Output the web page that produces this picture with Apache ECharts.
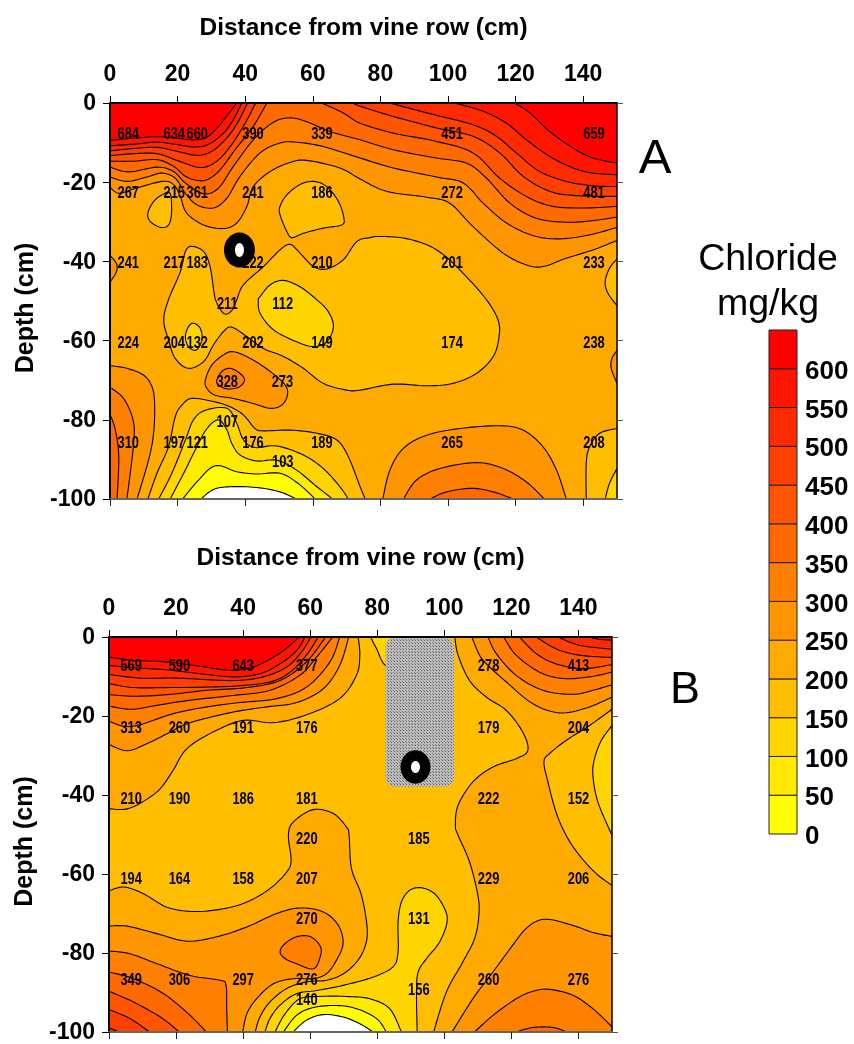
<!DOCTYPE html>
<html><head><meta charset="utf-8"><style>html,body{margin:0;padding:0;background:#fff}#c{width:854px;height:1044px}</style>
<script src="https://cdn.jsdelivr.net/npm/echarts@6/dist/echarts.min.js"></script></head>
<body><div id="c"></div>
<script>
// Legend bands
const bandLow=[0,50,100,150,200,250,300,350,400,450,500,550,600];
const bandHigh=[50,100,150,200,250,300,350,400,450,500,550,600,650];
const bandColors=['#FFFF00','#FFEA00','#FFD500','#FFBF00','#FFAA00','#FF9500','#FF8000','#FF6A00','#FF5500','#FF4000','#FF2B00','#FF1500','#FF0000'];
const xTicks=[0,20,40,60,80,100,120,140];

// Panel A sample labels [distance, depth, chloride]
const samplesA=[[5.4,-7.7,684],[19,-7.7,634],[25.8,-7.7,660],[42.3,-7.7,390],[62.7,-7.7,339],[101.2,-7.7,451],[143.2,-7.7,659],
[5.4,-22.6,267],[19,-22.6,215],[25.8,-22.6,361],[42.3,-22.6,241],[62.7,-22.6,186],[101.2,-22.6,272],[143.2,-22.6,481],
[5.4,-40.3,241],[19,-40.3,217],[25.8,-40.3,183],[42.3,-40.3,222],[62.7,-40.3,210],[101.2,-40.3,201],[143.2,-40.3,233],
[34.7,-50.6,211],[51.1,-50.6,112],
[5.4,-60.5,224],[19,-60.5,204],[25.8,-60.5,132],[42.3,-60.5,202],[62.7,-60.5,149],[101.2,-60.5,174],[143.2,-60.5,238],
[34.7,-70.4,328],[51,-70.4,273],[34.7,-80.5,107],
[5.4,-85.6,310],[19,-85.6,197],[25.8,-85.6,121],[42.3,-85.6,176],[62.7,-85.6,189],[101.2,-85.6,265],[143.2,-85.6,208],
[51.1,-90.6,103]];
// Panel B sample labels
const samplesB=[[6.6,-7.3,569],[21,-7.3,590],[40,-7.3,643],[59,-7.3,377],[113.2,-7.3,278],[140,-7.3,413],
[6.6,-22.8,313],[21,-22.8,260],[40,-22.8,191],[59,-22.8,176],[113.2,-22.8,179],[140,-22.8,204],
[6.6,-40.8,210],[21,-40.8,190],[40,-40.8,186],[59,-40.8,181],[113.2,-40.8,222],[140,-40.8,152],
[59,-51,220],[92.4,-51,185],
[6.6,-61.1,194],[21,-61.1,164],[40,-61.1,158],[59,-61.1,207],[113.2,-61.1,229],[140,-61.1,206],
[59,-71.2,270],[92.4,-71.2,131],
[6.6,-86.7,349],[21,-86.7,306],[40,-86.7,297],[59,-86.7,276],[113.2,-86.7,260],[140,-86.7,276],
[92.4,-89.2,156],[59,-91.8,140]];

// Emitter rings [distance, depth] and the buried barrier block [x0,y0,x1,y1]
const ringA=[38.3,-37.1];
const ringB=[91.4,-32.9];
const blockB=[82.5,-0.2,102.9,-37.9];

// Panel A contour lines, [distance, depth]
const a600L=[[0,-9.4],[7,-8.9],[13.9,-8.5],[19.8,-8.9],[24.7,-9.3],[28.7,-8.6],[32.1,-5.9],[35.1,-2.7],[37.5,0]];
const a550L=[[0,-10.8],[7,-10.4],[13.9,-9.9],[19.8,-10.5],[24.7,-11.1],[29.1,-10.5],[33.6,-7.6],[36.5,-4.2],[39,0]];
const a500L=[[0,-12.1],[7,-11.5],[13.9,-11.2],[19.8,-12.2],[25.7,-13.2],[30.1,-12.2],[34.6,-8.8],[38,-4.6],[40.7,0]];
const a450L=[[0,-13.3],[7,-12.8],[13.9,-12.8],[19.8,-14.5],[26.7,-16.3],[31.6,-14.7],[36,-10.5],[40,-5.1],[43.1,0]];
const a400L=[[0,-14.7],[7,-14.7],[13.9,-14.3],[18.8,-16],[22.7,-18.7],[27.7,-19.6],[32.1,-17.3],[37,-11.8],[42.4,-5.9],[46.4,0]];
const a350=[[0,-16.2],[5.5,-17.4],[13.9,-16.2],[18.8,-17.3],[22.3,-20.2],[27.7,-22.9],[32.1,-21.5],[36.5,-16],[42.4,-9.3],[47.9,-5.1],[52.3,-3.8],[57.2,-4.4],[65.1,-7.2],[74,-9.3],[83.8,-11.8],[96.6,-13.9],[105.5,-15.2],[111.4,-19],[118.3,-25.3],[126.1,-29.1],[135,-30.1],[142.9,-29.7],[150,-28.8]];
const a300=[[0,-18.7],[5,-19.8],[10.9,-18.7],[15.4,-17.7],[19.3,-19],[22.3,-22.8],[25.7,-25.7],[30.6,-26.5],[34.6,-24],[38.5,-18.5],[44.4,-12.6],[50.3,-10.1],[55.2,-9.9],[63.1,-11],[74,-13.9],[83.8,-16.4],[96.6,-18.7],[104.5,-20.2],[110.4,-25.3],[117.3,-30.3],[125.2,-33.5],[133.1,-34.3],[141.9,-33.3],[150,-31.4]];
const a250=[[0,-21.3],[2.6,-22.8],[7,-21.7],[15.4,-19.8],[18.8,-20.6],[20.8,-23.6],[22.7,-27.8],[27.7,-30.8],[33.6,-31.7],[37.5,-30.3],[40.5,-26.1],[42.4,-21.1],[47.4,-17.3],[53.3,-15],[58.2,-14.5],[68,-16.4],[74,-19.2],[81.8,-22.3],[93.7,-23.8],[100.5,-25.3],[107.4,-31.2],[116.3,-37.9],[123.2,-40.9],[128.1,-41.3],[135,-39.2],[142.9,-37.1],[150,-34.7]];
const a600R=[[119.7,0],[124.2,-2.5],[130.1,-7.2],[137,-11.4],[142.9,-13.9],[150,-15.2]];
const a550R=[[102,0],[110.4,-2.1],[117.3,-5.1],[123.2,-9.3],[130.1,-13.5],[137,-16.4],[142.9,-17.7],[150,-18.1]];
const a500R=[[82.8,0],[93.7,-2.5],[107.4,-5.5],[114.3,-8.4],[120.2,-12.6],[127.1,-17.3],[135,-19.8],[142.9,-20.9],[150,-21.1]];
const a450R=[[72,0],[74,-0.8],[83.8,-3.4],[96.6,-6.3],[107.4,-8.4],[115.3,-12.6],[122.2,-18.5],[130.1,-22.3],[138,-23.4],[150,-23.6]];
const a400R=[[62.6,0],[69,-2.5],[74,-5.1],[83.8,-7.6],[96.6,-9.7],[107.4,-12.6],[115.3,-19],[123.2,-23.6],[131,-26.1],[140.9,-26.5],[150,-26.1]];
const a200BlobL=[[17.8,-22.9],[18.2,-27.8],[17.3,-30.8],[14.9,-31.4],[11.9,-29.9],[11.2,-27.8],[12.9,-24.9],[15.4,-23.2]];
const a200BlobM=[[50.3,-26.1],[52.3,-23.2],[56.2,-20.6],[60.2,-19.8],[64.1,-21.1],[67.6,-24.9],[69.2,-29.1],[68.5,-30.8],[63.1,-31.6],[57.2,-32.9],[53.8,-34],[52.3,-32.4],[50.3,-28.2]];
const a200Big=[[17.3,-49.7],[20.8,-42.6],[22.3,-37.5],[24.2,-36.2],[27.7,-37.5],[29.6,-41.3],[30.8,-48],[31.4,-50.1],[33.1,-52.7],[34.6,-53.3],[36.3,-52.1],[37.5,-49.7],[39.5,-45.9],[45.4,-41.3],[50.3,-37.1],[53.3,-35.7],[56.2,-37.9],[60.2,-41.3],[64.1,-41.9],[69,-39.6],[73,-35],[76.9,-34],[79.9,-33.7],[86.8,-34.1],[93.7,-35.8],[98.6,-38.3],[104.5,-43],[111.4,-49.7],[114.8,-54.8],[115.1,-59],[113.4,-64],[108.4,-68.3],[101.5,-70.8],[93.7,-71.4],[83.8,-71],[74,-72.5],[70,-72.5],[63.1,-70.8],[57.2,-67],[51.3,-64],[45.4,-62],[40.5,-59],[36,-56.6],[33.6,-57.7],[30.6,-61.1],[27.7,-65.3],[23.2,-67],[19.3,-64.5],[17.3,-59.8],[15.9,-54.8]];
const a150Blob112=[[44.4,-48.9],[47.4,-45.9],[51.3,-44.8],[56.2,-46.4],[61.2,-49.7],[64.6,-52.7],[66.1,-56.5],[64.1,-60.3],[60.2,-61.5],[55.2,-60.3],[48.4,-57.3],[44.4,-53.1],[43.9,-49.7]];
const a150Blob132=[[24.7,-55.6],[26.7,-56.9],[27.2,-59.8],[25.5,-62.4],[23.2,-61.5],[22.3,-59],[23.2,-56.5]];
const a250Blob273=[[28.2,-70],[30.1,-66.2],[33.6,-63.6],[36.5,-62.8],[41.5,-64.5],[47.4,-67.8],[51.8,-71.2],[52.5,-73.8],[50.8,-76.3],[47.4,-77.1],[42.4,-75.9],[36.5,-74.6],[31.1,-73.8],[28.7,-72.1]];
const a300Blob328=[[31.6,-70],[33.1,-67.8],[35.5,-67],[38.5,-68.3],[39.8,-70],[38,-71.8],[34.6,-72.2],[32.1,-71.2]];
const a250BL=[[0,-66.3],[5,-67],[9.9,-68.7],[12.4,-71.6],[13.2,-75.9],[12.9,-83.4],[11.4,-90.2],[8,-100]];
const a300BL=[[0,-71.8],[4,-74.6],[6.8,-80],[7,-86],[5,-100]];
const a350BL=[[0,-78.6],[1.6,-82.6],[2.6,-89.3],[2.1,-100]];
const a200Bot=[[11.2,-100],[13.9,-93.5],[17.3,-86.8],[19.3,-79.2],[21.3,-76.3],[24.2,-74.6],[30.6,-75.4],[35.5,-76.7],[39.5,-78.8],[42.9,-82.2],[45.4,-82.8],[53.3,-82.6],[61.2,-83.4],[67.1,-85.1],[70.5,-89.3],[74,-96.9],[75.5,-100]];
const a150Bot=[[14.4,-100],[18.3,-93.5],[22.3,-85.1],[24.7,-80],[28.2,-77.6],[34.6,-77.1],[37.5,-80.9],[39.5,-85.1],[42.9,-87],[49.3,-86.6],[57.2,-88.9],[63.1,-92.3],[68,-96.9],[70.5,-100]];
const a100Bot=[[17.8,-100],[21.8,-93.5],[25.7,-86.8],[28.7,-82.2],[32.1,-80],[34.6,-82.6],[36,-85.9],[38.5,-88.9],[43.4,-90.4],[49.3,-90.2],[55.2,-92.7],[61.2,-96.9],[65.9,-100]];
const a50Bot=[[21.5,-100],[25.7,-95.7],[31.1,-91.6],[37.5,-93.1],[43.4,-93.7],[50.3,-93.5],[55.7,-96.1],[60.7,-100]];
const a0Bot=[[26.9,-100],[30.6,-97.6],[35.5,-96.9],[43.4,-97.1],[50.3,-98.2],[55.2,-100]];
const a250BR=[[80.7,-100],[82.8,-92.7],[86.8,-87.2],[93.7,-83.9],[103.5,-82.2],[115.3,-81.5],[122.2,-82.6],[128.1,-86.8],[132.1,-92.7],[135,-100]];
const a300BR=[[86.8,-100],[90.7,-95.2],[97.6,-92.3],[108.4,-90.8],[116.3,-92.3],[123.2,-95.7],[128.5,-100]];
const a350BR=[[94.6,-100],[99.6,-98.2],[107,-97.3],[113.4,-98.2],[119.3,-100]];
const a200CornerR=[[140.9,-100],[140.9,-91],[141.9,-86.8],[144.9,-83.4],[150,-82.2]];
const a150CornerR=[[146.5,-100],[147.8,-96],[150,-92.3]];
const a250EdgeR=[[150,-62.5],[148.5,-64.5],[148.3,-67],[150,-70.8]];
const a200EdgeR=[[150,-39.4],[147.8,-41.7],[146.5,-45.1],[147.3,-48],[150,-51.2]];
const a250EdgeL=[[0,-38.5],[1.9,-40.5],[1.9,-42.6],[0,-45.3]];

// Panel B contour lines
const b600=[[0,-5.1],[7.3,-5.9],[17.3,-6.3],[26.2,-7.3],[36.1,-8.4],[43.1,-7.6],[50,-4.6],[54,-2.1],[56.7,0]];
const b550=[[0,-7.2],[7.3,-7.8],[17.3,-8.3],[27.2,-9.3],[37.1,-10.1],[45,-9.3],[51,-6.8],[56,-3.4],[58.4,0]];
const b500=[[0,-9.5],[9.3,-10.4],[20.2,-10.4],[29.2,-10.8],[38.1,-11],[46,-10.1],[53,-7.6],[57.4,-3.8],[60.2,0]];
const b450=[[0,-11.8],[7.3,-12.8],[18.3,-12.8],[28.2,-12.7],[38.1,-12.4],[48,-11.4],[54,-8.9],[58.9,-4.6],[62.4,0]];
const b400=[[0,-14.6],[7.3,-15],[17.3,-14.6],[29.2,-13.5],[41.1,-12.8],[51,-11],[58.9,-6.3],[64.6,0]];
const b350=[[0,-17.5],[6.8,-18.3],[14.3,-17.3],[24.2,-16],[37.1,-14.8],[48,-13.5],[56.9,-9.7],[61.9,-5.1],[66.7,0]];
const b300=[[0,-21.3],[4.4,-22.6],[9.3,-22.2],[19.2,-19.4],[29.2,-17.7],[39.1,-16.6],[50,-15.6],[58.9,-12.7],[65.9,-6.3],[68.8,0]];
const b250=[[0,-27.2],[5.4,-28.8],[11.3,-27],[17.3,-24.5],[24.2,-21.7],[37.1,-19],[47,-17.7],[56,-16.6],[63.9,-13.1],[68.8,-7.2],[71.5,0]];
const b200=[[0,-43.5],[6.3,-43.3],[14.3,-39.2],[18.8,-34.2],[23.2,-28.3],[31.2,-24],[40.1,-21.1],[49,-21.7],[58.9,-19.7],[68.8,-15.6],[73.8,-9.7],[74.8,-4.6],[74.3,0]];
const b200Low=[[0,-64.3],[4.4,-63.3],[10.3,-65],[17.3,-68.4],[25.2,-69.5],[34.1,-68.8],[41.1,-67.1],[48,-63.7],[53,-59.5],[54.3,-56.5],[53.5,-50.2],[55,-46.8],[60.9,-43.7],[66.9,-44.7],[70.8,-48.1],[71.6,-50.2],[72.3,-58.6],[75.3,-65.4],[77,-73.8],[76.3,-78.5],[73.8,-82.3],[69.8,-85.3],[64.9,-86.9],[58.9,-87.3],[53,-89],[48,-92.4],[45,-96.2],[43.6,-100]];
const b250Low=[[0,-73.2],[5.4,-73.2],[14.3,-75.1],[23.2,-77],[32.1,-75.9],[41.1,-73.4],[50,-70],[56.9,-68.6],[63.9,-69.6],[68.4,-73],[69.8,-77.6],[67.8,-81.9],[64.9,-85.2],[60.9,-86.5],[55,-86.5],[49,-87.8],[44,-91.6],[41.1,-95.4],[39.9,-100]];
const b300Low=[[0,-79.5],[6.3,-80.2],[14.3,-82.7],[24.2,-85.7],[33.1,-86.9],[34.9,-88.2],[35.1,-94.1],[35.3,-100]];
const b350Low=[[0,-84.8],[7.3,-86.5],[16.3,-90.3],[24.2,-95.8],[29,-100]];
const b400Low=[[0,-89.7],[7.3,-92.4],[15.3,-96.2],[21,-100]];
const b450Low=[[0,-94.3],[6.3,-96.6],[12.1,-100]];
const b500Low=[[0,-98.9],[2.9,-100]];
const b300Blob=[[51,-79.7],[52.5,-77.6],[55.9,-75.9],[59.9,-75.8],[62.9,-78.1],[63.1,-80.6],[61,-84],[55.9,-82.7],[52.5,-81.4]];
const b150Low=[[46.5,-100],[48,-96.6],[51,-93.2],[55.9,-90.3],[61.9,-89.5],[69.8,-88.2],[78.8,-86.1],[84.7,-83.5],[86.2,-79.7],[86.2,-72.2],[87.2,-67.1],[89.7,-64.1],[93.2,-63.5],[97.1,-65],[100.1,-68.8],[100.8,-72.2],[98.6,-77.2],[94.7,-81.4],[92.2,-84.8],[91.7,-89.9],[91.9,-100]];
const b100Low=[[49.5,-100],[52.5,-95.4],[56.9,-91.6],[62.9,-91],[70.8,-91],[77.8,-91.6],[83.7,-94.1],[87.2,-100]];
const b50Low=[[52,-100],[55.9,-95.8],[60.9,-93.8],[67.9,-93.3],[73.8,-94.1],[79.8,-96.6],[82.7,-100]];
const b0Low=[[54.9,-100],[58.9,-97],[63.9,-95.6],[69.8,-96.2],[74.8,-97.9],[78.8,-100]];
const b150Top=[[78,0],[79.8,-3],[82.5,-7.2],[87.7,-7.2],[94.7,-5.5],[98.6,0]];
const b200Right=[[103.1,0],[104.1,-4.6],[107.5,-11],[112.5,-15.2],[118.5,-18.6],[123.4,-24.1],[124.9,-28.7],[121.4,-30.8],[114.5,-32.9],[108.5,-36.7],[104.1,-42.6],[103.3,-47.7],[104.1,-50.2],[107.5,-56.9],[110,-65.4],[110.3,-70.5],[109,-76.4],[105.5,-82.3],[100.6,-89.9],[96.8,-100]];
const b250BR=[[102.3,-100],[108.5,-91.6],[114.5,-84.8],[120.4,-78],[123.9,-74.2],[127.4,-72],[131.3,-71.5],[138.3,-73],[144.3,-74.8],[150,-75.8]];
const b300BR=[[109,-100],[114.5,-95.8],[121.4,-91.6],[126.4,-89.7],[131.3,-89.2],[138.3,-90.7],[144.3,-94.1],[150,-98.7]];
const b350BR=[[121.4,-100],[125.4,-99],[129.4,-98.7],[133.3,-99],[136.5,-100]];
const b200EdgeR=[[150,-18.3],[143.3,-22.4],[136.3,-26.2],[131.4,-29.5],[129.7,-31.6],[130.9,-36.7],[133.3,-44.3],[136.3,-50.2],[140.3,-55.3],[145.3,-59.9],[150,-62.9]];
const b150EdgeR=[[150,-22.4],[146.8,-26.2],[144.8,-30.8],[144.3,-35],[145.8,-41.8],[150,-50.2]];
const b250TR=[[108.2,0],[110.5,-4.6],[113,-7.2],[118.5,-11.4],[126.4,-16.9],[134.3,-19.2],[142.3,-18],[150,-15.2]];
const b300TR=[[113,0],[115.5,-4.2],[121.4,-9.7],[129.4,-13.5],[138.3,-14.5],[144.3,-13.5],[150,-12.1]];
const b350TR=[[117.7,0],[121.4,-4.6],[128.4,-8.9],[135.3,-10.5],[143.3,-10.1],[150,-8.9]];
const b400TR=[[122.4,0],[127.4,-4.2],[133.3,-6.8],[141.3,-8],[150,-7]];
const b450TR=[[127.4,0],[133.3,-3],[140.3,-4.6],[150,-5.2]];
const b500TR=[[133.9,0],[140.3,-2.1],[150,-3.1]];
const b550TR=[[143.1,0],[146.2,-0.6],[150,-0.8]];

const TL=[[0,0]],TR=[[150,0]],BL=[[0,-100]],BR=[[150,-100]],NONE=[];
const frame=[[0,0],[150,0],[150,-100],[0,-100]];
const hi=l=>bandColors[l/50];
const lo=l=>l===0?'#FFFFFF':bandColors[l/50-1];
// [points, fill, corners closing the area, closed loop?]
const layersA=[
[frame,hi(200),NONE,'base'],
[a250,hi(250),[[150,0],[0,0]]],[a250BL,hi(250),BL],[a250BR,hi(250),NONE],[a250Blob273,hi(250),NONE,'loop'],[a250EdgeR,hi(250),NONE],[a250EdgeL,hi(250),NONE],
[a300,hi(300),[[150,0],[0,0]]],[a300BL,hi(300),BL],[a300BR,hi(300),NONE],[a300Blob328,hi(300),NONE,'loop'],
[a350,hi(350),[[150,0],[0,0]]],[a350BL,hi(350),BL],[a350BR,hi(350),NONE],
[a400L,hi(400),TL],[a400R,hi(400),TR],[a450L,hi(450),TL],[a450R,hi(450),TR],[a500L,hi(500),TL],[a500R,hi(500),TR],
[a550L,hi(550),TL],[a550R,hi(550),TR],[a600L,hi(600),TL],[a600R,hi(600),TR],
[a200BlobL,lo(200),NONE,'loop'],[a200BlobM,lo(200),NONE,'loop'],[a200Big,lo(200),NONE,'loop'],[a200Bot,lo(200),NONE],[a200CornerR,lo(200),BR],[a200EdgeR,lo(200),NONE],
[a150Blob112,lo(150),NONE,'loop'],[a150Blob132,lo(150),NONE,'loop'],[a150Bot,lo(150),NONE],[a150CornerR,lo(150),BR],
[a100Bot,lo(100),NONE],[a50Bot,lo(50),NONE],[a0Bot,lo(0),NONE]];
const layersB=[
[frame,hi(150),NONE,'base'],
[b200,hi(200),TL],[b200Low,hi(200),BL],[b200Right,hi(200),[[150,-100],[150,0]]],
[b250,hi(250),TL],[b250Low,hi(250),BL],[b250TR,hi(250),TR],[b250BR,hi(250),BR],
[b300,hi(300),TL],[b300Low,hi(300),BL],[b300TR,hi(300),TR],[b300BR,hi(300),BR],[b300Blob,hi(300),NONE,'loop'],
[b350,hi(350),TL],[b350Low,hi(350),BL],[b350TR,hi(350),TR],[b350BR,hi(350),NONE],
[b400,hi(400),TL],[b400Low,hi(400),BL],[b400TR,hi(400),TR],
[b450,hi(450),TL],[b450Low,hi(450),BL],[b450TR,hi(450),TR],
[b500,hi(500),TL],[b500Low,hi(500),BL],[b500TR,hi(500),TR],
[b550,hi(550),TL],[b550TR,hi(550),TR],[b600,hi(600),TL],
[b200EdgeR,lo(200),NONE],[b150EdgeR,lo(150),NONE],[b150Top,lo(150),NONE],
[b150Low,lo(150),NONE],[b100Low,lo(100),NONE],[b50Low,lo(50),NONE],[b0Low,lo(0),NONE]];

function spline(p,loop){
  const n=p.length,out=[],S=8;
  const g=i=>loop?p[(i+n)%n]:p[Math.max(0,Math.min(n-1,i))];
  const segs=loop?n:n-1;
  for(let i=0;i<segs;i++){
    const a=g(i-1),b=g(i),c=g(i+1),d=g(i+2);
    for(let k=0;k<S;k++){
      const t=k/S,t2=t*t,t3=t2*t;
      out.push([0,1].map(j=>0.5*(2*b[j]+(c[j]-a[j])*t+(2*a[j]-5*b[j]+4*c[j]-d[j])*t2+(3*b[j]-a[j]-3*c[j]+d[j])*t3)));
    }
  }
  out.push(loop?out[0]:p[n-1]);
  return out;
}
function contourRender(layers){
  return function(params,api){
    const [pts,fill,corners,kind]=layers[params.dataIndex];
    const scr=pts.map(q=>api.coord(q));
    if(kind==='base') return {type:'polygon',shape:{points:scr},style:{fill:fill,stroke:'none'}};
    const line=spline(scr,kind==='loop');
    const area=line.concat(corners.map(q=>api.coord(q)));
    return {type:'group',children:[
      {type:'polygon',shape:{points:area},style:{fill:fill,stroke:'none'}},
      {type:'polyline',shape:{points:line},style:{fill:'none',stroke:'#000',lineWidth:1.1}}
    ]};
  };
}
function ringRender(rx,ry,ix,iy){
  return function(params,api){
    const c=api.coord([api.value(0),api.value(1)]);
    return {type:'group',children:[
      {type:'ellipse',shape:{cx:c[0],cy:c[1],rx:rx,ry:ry},style:{fill:'#000'}},
      {type:'ellipse',shape:{cx:c[0],cy:c[1],rx:ix,ry:iy},style:{fill:'#fff'}}
    ]};
  };
}
const dots=document.createElement('canvas');dots.width=3;dots.height=3;
(function(){const g=dots.getContext('2d');g.fillStyle='#bcbcbc';g.fillRect(0,0,3,3);g.fillStyle='#5e5e5e';g.fillRect(1,1,1,1);g.fillStyle='#7e7e7e';g.fillRect(0,0,1,1);})();

const bold='"Liberation Sans",Arial,sans-serif';
const grids=[{left:110,top:103,width:507,height:396,outerBoundsMode:'none'},{left:109,top:637,width:503,height:395,outerBoundsMode:'none'},{left:769,top:330,width:28,height:504,outerBoundsMode:'none'}];
const xAxes=[],yAxes=[];
[0,1].forEach(i=>{
  xAxes.push({gridIndex:i,type:'value',position:'top',min:0,max:150,z:10,name:'Distance from vine row (cm)',nameLocation:'middle',nameGap:i?66:62,nameMoveOverlap:false,
    nameTextStyle:{fontFamily:bold,fontWeight:'bold',fontSize:24.5,color:'#000'},
    axisLine:{onZero:false,lineStyle:{color:'#000',width:2}},splitLine:{show:false},
    axisTick:{customValues:xTicks,length:7,lineStyle:{color:'#000',width:1}},
    axisLabel:{customValues:xTicks,margin:17,fontFamily:bold,fontWeight:'bold',fontSize:23,color:'#000'}});
  xAxes.push({gridIndex:i,type:'value',position:'bottom',min:0,max:150,z:10,
    axisLine:{onZero:false,lineStyle:{color:'#666',width:2}},splitLine:{show:false},
    axisTick:{customValues:xTicks,length:7,lineStyle:{color:'#222',width:1}},axisLabel:{show:false}});
  yAxes.push({gridIndex:i,type:'value',position:'left',min:-100,max:0,interval:20,z:10,name:'Depth (cm)',nameLocation:'middle',nameGap:71,nameRotate:90,nameMoveOverlap:false,
    nameTextStyle:{fontFamily:bold,fontWeight:'bold',fontSize:25,color:'#000',padding:[0,14,0,0]},
    axisLine:{onZero:false,lineStyle:{color:'#000',width:2}},splitLine:{show:false},
    axisTick:{length:7,lineStyle:{color:'#000',width:1}},
    axisLabel:{margin:14,fontFamily:bold,fontWeight:'bold',fontSize:23,color:'#000',verticalAlign:'top',lineHeight:2}});
  yAxes.push({gridIndex:i,type:'value',position:'right',min:-100,max:0,interval:20,z:10,
    axisLine:{onZero:false,lineStyle:{color:'#000',width:1.5}},splitLine:{show:false},
    axisTick:{length:6,lineStyle:{color:'#555',width:1}},axisLabel:{show:false}});
});
xAxes.push({gridIndex:2,type:'value',min:0,max:1,show:false});
yAxes.push({gridIndex:2,type:'value',position:'right',min:0,max:650,interval:50,
  axisLine:{show:false},axisTick:{show:false},splitLine:{show:false},
  axisLabel:{margin:8,fontFamily:bold,fontWeight:'bold',fontSize:26,color:'#000',verticalAlign:'top',lineHeight:6,formatter:v=>v===650?'':String(v)}});

function labelSeries(ax,data){
  return {type:'custom',xAxisIndex:ax,yAxisIndex:ax,data:data,silent:true,z:6,encode:{x:0,y:1},
    renderItem:function(params,api){
      const c=api.coord([api.value(0),api.value(1)]);
      return {type:'text',x:c[0],y:c[1]+1,scaleX:0.78,style:{text:String(api.value(2)),fontFamily:bold,fontWeight:'bold',fontSize:16.5,fill:'#000',align:'center',verticalAlign:'middle'}};
    }};
}
const option={animation:false,backgroundColor:'#fff',
  title:[
    {text:'A',left:655,top:159,padding:0,textAlign:'center',textVerticalAlign:'middle',textStyle:{fontFamily:bold,fontWeight:'normal',fontSize:49,color:'#000'}},
    {text:'B',left:685,top:691,padding:0,textAlign:'center',textVerticalAlign:'middle',textStyle:{fontFamily:bold,fontWeight:'normal',fontSize:45,color:'#000'}},
    {text:'Chloride',left:768,top:260,padding:0,textAlign:'center',textVerticalAlign:'middle',textStyle:{fontFamily:bold,fontWeight:'normal',fontSize:37.5,color:'#000'}},
    {text:'mg/kg',left:768,top:305,padding:0,textAlign:'center',textVerticalAlign:'middle',textStyle:{fontFamily:bold,fontWeight:'normal',fontSize:37.5,color:'#000'}}
  ],
  grid:grids,xAxis:xAxes,yAxis:yAxes,
  series:[
    {type:'custom',xAxisIndex:0,yAxisIndex:0,clip:true,silent:true,z:2,data:layersA.map((_,i)=>[75,-50,i]),encode:{x:0,y:1},renderItem:contourRender(layersA)},
    {type:'custom',xAxisIndex:0,yAxisIndex:0,silent:true,z:4,data:[ringA],encode:{x:0,y:1},renderItem:ringRender(15.5,17.5,4.5,7)},
    labelSeries(0,samplesA),
    {type:'custom',xAxisIndex:2,yAxisIndex:2,clip:true,silent:true,z:2,data:layersB.map((_,i)=>[75,-50,i]),encode:{x:0,y:1},renderItem:contourRender(layersB)},
    {type:'custom',xAxisIndex:2,yAxisIndex:2,silent:true,z:3,data:[blockB],encode:{x:[0,2],y:[1,3]},renderItem:function(params,api){
      const a=api.coord([api.value(0),api.value(1)]),b=api.coord([api.value(2),api.value(3)]);
      return {type:'rect',shape:{x:a[0],y:a[1],width:b[0]-a[0],height:b[1]-a[1],r:[9,9,9,9]},style:{fill:{image:dots,repeat:'repeat'},stroke:'none'}};
    }},
    {type:'custom',xAxisIndex:2,yAxisIndex:2,silent:true,z:4,data:[ringB],encode:{x:0,y:1},renderItem:ringRender(15,16.7,4.5,6)},
    labelSeries(2,samplesB),
    {type:'custom',xAxisIndex:4,yAxisIndex:4,silent:true,z:2,data:bandLow.map((l,i)=>[0,l,1,bandHigh[i]]),encode:{x:[0,2],y:[1,3]},renderItem:function(params,api){
      const a=api.coord([api.value(0),api.value(3)]),b=api.coord([api.value(2),api.value(1)]);
      return {type:'rect',shape:{x:a[0],y:a[1],width:b[0]-a[0],height:b[1]-a[1]},style:{fill:bandColors[params.dataIndex],stroke:'#222',lineWidth:1}};
    }}
  ]};
echarts.init(document.getElementById('c')).setOption(option);
</script></body></html>
